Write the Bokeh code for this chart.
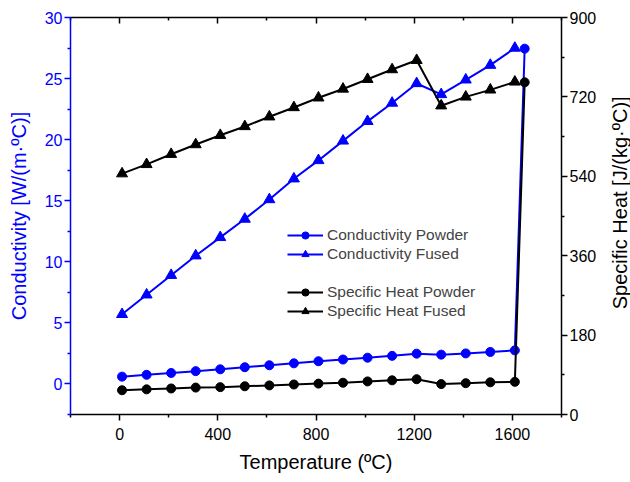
import math
from bokeh.plotting import figure
from bokeh.layouts import row
from bokeh.models import Range1d, LinearAxis, FixedTicker, Legend, LegendItem, Label
from bokeh.embed import file_html
from bokeh.resources import INLINE

# ---- data ----
temp_fused = [10, 110, 210, 310, 410, 510, 610, 710, 810, 910, 1010, 1110, 1210, 1310, 1410, 1510, 1610]
temp_powder = [10, 110, 210, 310, 410, 510, 610, 710, 810, 910, 1010, 1110, 1210, 1310, 1410, 1510, 1610, 1650]
cond_powder = [0.6, 0.75, 0.9, 1.05, 1.2, 1.37, 1.53, 1.69, 1.86, 2.0, 2.15, 2.3, 2.48, 2.4, 2.5, 2.62, 2.75, 27.45]
cond_fused = [5.7, 7.3, 8.9, 10.5, 12.0, 13.5, 15.1, 16.8, 18.3, 19.9, 21.5, 23.0, 24.6, 23.7, 24.9, 26.1, 27.5]
cp_powder = [55, 57, 59, 61, 62, 64, 66, 68, 70, 72, 75, 77.5, 80, 69, 71, 73, 74, 753]
cp_fused = [546, 567, 590, 612, 633, 653, 675, 696, 718, 738, 760, 782, 803, 700, 720, 736, 754]

x_ticks = [0, 400, 800, 1200, 1600]
x_minor = [-200, 200, 600, 1000, 1400, 1800]
cond_ticks = [0, 5, 10, 15, 20, 25, 30]
cond_minor = [-2.5, 2.5, 7.5, 12.5, 17.5, 22.5, 27.5]
cp_ticks = [0, 180, 360, 540, 720, 900]
cp_minor = [90, 270, 450, 630, 810]

FONT = "Liberation Sans"
BLUE = "#0000FF"
BLACK = "#000000"

p = figure(width=599, height=482,
           x_range=Range1d(-200, 1800), y_range=Range1d(-2.5, 30),
           output_backend="svg", toolbar_location=None,
           x_axis_location=None, y_axis_location=None,
           min_border_left=70, min_border_right=36,
           min_border_top=17, min_border_bottom=68)
p.extra_y_ranges = {"cp": Range1d(0, 900)}
p.grid.visible = False
p.outline_line_color = None
p.background_fill_color = "white"
p.border_fill_color = "white"


def style_axis(ax, color):
    ax.axis_line_color = color
    ax.axis_line_width = 1.5
    ax.major_tick_line_color = color
    ax.minor_tick_line_color = color
    ax.major_tick_line_width = 1.5
    ax.minor_tick_line_width = 1.5
    ax.major_label_text_color = color
    ax.axis_label_text_color = color
    ax.major_label_text_font = FONT
    ax.axis_label_text_font = FONT
    ax.major_label_text_font_size = "16px"
    ax.axis_label_text_font_size = "20px"
    ax.axis_label_text_font_style = "normal"
    ax.major_tick_out = 6
    ax.major_tick_in = 0
    ax.minor_tick_out = 3
    ax.minor_tick_in = 0
    ax.major_label_standoff = 3


bottom = LinearAxis(ticker=FixedTicker(ticks=x_ticks, minor_ticks=x_minor),
                    axis_label="Temperature (ºC)")
style_axis(bottom, BLACK)
bottom.major_label_standoff = 7
bottom.axis_label_standoff = 8
p.add_layout(bottom, "below")

top = LinearAxis(ticker=FixedTicker(ticks=x_ticks, minor_ticks=x_minor))
style_axis(top, BLACK)
top.major_label_text_color = None
top.major_label_text_font_size = "1px"
top.major_tick_out = 0
top.major_tick_in = 6
top.minor_tick_out = 0
top.minor_tick_in = 3
top.major_label_standoff = 0
p.add_layout(top, "above")

left = LinearAxis(ticker=FixedTicker(ticks=cond_ticks, minor_ticks=cond_minor),
                  axis_label="Conductivity [W/(m·ºC)]")
style_axis(left, BLUE)
left.major_label_standoff = 2
left.axis_label_standoff = 12
p.add_layout(left, "left")

right = LinearAxis(y_range_name="cp",
                   ticker=FixedTicker(ticks=cp_ticks, minor_ticks=cp_minor))
style_axis(right, BLACK)
right.major_label_standoff = 2
p.add_layout(right, "right")

# ---- series ----
l_cp_ = p.line(temp_powder, cond_powder, line_color=BLUE, line_width=2)
s_cp_ = p.scatter(temp_powder, cond_powder, marker="circle", size=9, fill_color=BLUE, line_color=BLUE)
l_cf = p.line(temp_fused, cond_fused, line_color=BLUE, line_width=2)
s_cf = p.scatter(temp_fused, cond_fused, marker="triangle", size=11, fill_color=BLUE, line_color=BLUE)
l_hp = p.line(temp_powder, cp_powder, line_color=BLACK, line_width=2, y_range_name="cp")
s_hp = p.scatter(temp_powder, cp_powder, marker="circle", size=9, fill_color=BLACK, line_color=BLACK, y_range_name="cp")
l_hf = p.line(temp_fused, cp_fused, line_color=BLACK, line_width=2, y_range_name="cp")
s_hf = p.scatter(temp_fused, cp_fused, marker="triangle", size=11, fill_color=BLACK, line_color=BLACK, y_range_name="cp")


def make_legend(items, loc):
    lg = Legend(items=items, location=loc,
                border_line_color=None, background_fill_alpha=0,
                label_text_font=FONT, label_text_font_size="15.5px",
                glyph_width=36, glyph_height=18, label_height=18,
                spacing=1, padding=0, margin=0, label_standoff=4)
    return lg


leg1 = make_legend([LegendItem(label="Conductivity Powder", renderers=[l_cp_, s_cp_]),
                    LegendItem(label="Conductivity Fused", renderers=[l_cf, s_cf])], (217, 151))
leg2 = make_legend([LegendItem(label="Specific Heat Powder", renderers=[l_hp, s_hp]),
                    LegendItem(label="Specific Heat Fused", renderers=[l_hf, s_hf])], (217, 94))
p.add_layout(leg1)
p.add_layout(leg2)

# ---- narrow strip holding the right-axis title (reads bottom-to-top) ----
side = figure(width=31, height=482, x_range=Range1d(0, 31), y_range=Range1d(0, 482),
              output_backend="svg", toolbar_location=None,
              x_axis_location=None, y_axis_location=None,
              min_border_left=0, min_border_right=0, min_border_top=0, min_border_bottom=0)
side.grid.visible = False
side.outline_line_color = None
side.background_fill_color = "white"
side.border_fill_color = "white"
side.add_layout(Label(x=20.5, y=257, text="Specific Heat [J/(kg·ºC)]", angle=math.pi / 2,
                      text_align="center", text_baseline="middle",
                      text_font=FONT, text_font_size="20px", text_color=BLACK))

layout = row(p, side)
open("out.html", "w").write(file_html(layout, INLINE))
